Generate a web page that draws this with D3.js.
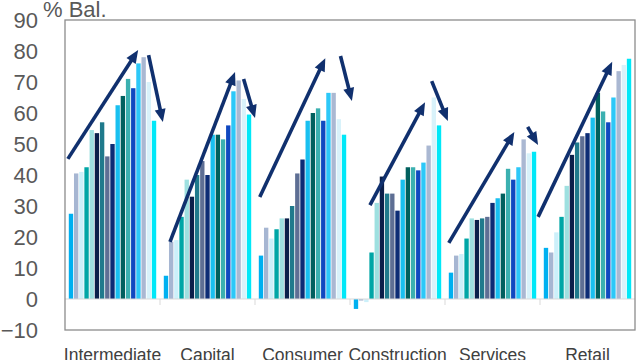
<!DOCTYPE html>
<html>
<head>
<meta charset="utf-8">
<script src="https://cdn.jsdelivr.net/npm/d3@7"></script>
<style>
  html, body { margin: 0; padding: 0; background: #fff; }
  svg { display: block; }
</style>
</head>
<body>
<svg id="chart" width="640" height="360"></svg>
<script>
// ---- data ----
const categories = ["Intermediate", "Capital", "Consumer", "Construction", "Services", "Retail"];
const intermediate = [27.5, 40.5, 41, 42.5, 54.5, 53.5, 57, 46, 50, 62.5, 65.5, 71, 68, 76, 78, 70, 57.5];
const capital      = [7.5, 18.5, 19, 26.5, 38.5, 33, 40, 44.5, 40, 53, 53, 51.5, 56, 67, 70.5, 64.5, 59.5];
const consumer     = [14, 23, 19.5, 22.5, 26, 26, 30, 40.5, 45, 57.5, 60, 61.5, 57.5, 66.5, 66.5, 58, 53];
const construction = [-3.2, -0.5, -1, 15, 31, 39.5, 34, 34, 28.5, 38.5, 42.5, 42.5, 41.5, 44, 49.5, 65, 56];
const services     = [8.5, 14, 14.5, 19.5, 26, 25.5, 26, 26.5, 31, 32.5, 34, 42, 38.5, 42.5, 51.5, 47, 47.5];
const retail       = [16.5, 15, 21.5, 26.5, 36.5, 46.5, 50.5, 52.5, 53.5, 58.5, 66.5, 60.5, 57, 65, 73.5, 75.5, 77.5];
const seriesColors = ["#00b0f0", "#a6b6d2", "#ccf0fa", "#00a6a6", "#9ee0e0", "#0a1f4a", "#1f7a8c",
                      "#5e6f94", "#0d2d75", "#19c0f0", "#00605e", "#3bb0b0", "#1048c0", "#2cc8f8",
                      "#aab8d2", "#d8f2fa", "#00e8f8"];
const yTicks = [-10, 0, 10, 20, 30, 40, 50, 60, 70, 80, 90];
// arrows: [category, start position in band (0..1), start value, end position, end value]
const arrows = [
  ["Intermediate", 0.03, 45.2, 0.77, 80.3],
  ["Intermediate", 0.88, 78.7, 1.03, 57.1],
  ["Capital", 0.105, 18.4, 0.79, 73.2],
  ["Capital", 0.88, 71, 1.0, 58.4],
  ["Consumer", 0.05, 32.9, 0.74, 77.7],
  ["Consumer", 0.90, 78.4, 1.02, 63.9],
  ["Construction", 0.21, 30.3, 0.79, 63.5],
  ["Construction", 0.86, 70.3, 1.03, 57.4],
  ["Services", 0.04, 18.1, 0.73, 53.9],
  ["Services", 0.87, 55.5, 0.98, 49.7],
  ["Retail", -0.02, 26.5, 0.76, 76.5]
];

const table = [intermediate, capital, consumer, construction, services, retail];

// ---- layout ----
const svg = d3.select("#chart");
const mLeft = 65, mRight = 635, mTop = 20, mBottom = 330;

const x0 = d3.scaleBand().domain(categories).range([mLeft, mRight]).paddingInner(0.08).paddingOuter(0.04);
const x1 = d3.scaleBand().domain(d3.range(seriesColors.length)).range([0, x0.bandwidth()]).paddingInner(0.16);
const y = d3.scaleLinear().domain([-10, 90]).range([mBottom, mTop]);
const step = x0.step();
const bandStart = c => x0(c) - x0.paddingOuter() * step;

// bars
const groups = svg.append("g").selectAll("g")
  .data(categories)
  .join("g")
  .attr("transform", c => `translate(${x0(c)},0)`);

groups.selectAll("rect")
  .data((c, i) => table[i].map((v, j) => ({ v, j })))
  .join("rect")
  .attr("x", d => x1(d.j))
  .attr("width", x1.bandwidth())
  .attr("y", d => y(Math.max(0, d.v)))
  .attr("height", d => Math.abs(y(d.v) - y(0)))
  .attr("fill", d => seriesColors[d.j]);

// zero line with category ticks
svg.append("line")
  .attr("x1", mLeft).attr("x2", mRight)
  .attr("y1", y(0)).attr("y2", y(0))
  .attr("stroke", "#d9d9d9").attr("stroke-width", 1);
svg.append("g").selectAll("line")
  .data(categories.slice(1))
  .join("line")
  .attr("x1", c => bandStart(c)).attr("x2", c => bandStart(c))
  .attr("y1", y(0)).attr("y2", y(0) + 6)
  .attr("stroke", "#d9d9d9").attr("stroke-width", 1);

// frame
svg.append("rect")
  .attr("x", mLeft).attr("y", mTop)
  .attr("width", mRight - mLeft).attr("height", mBottom - mTop)
  .attr("fill", "none").attr("stroke", "#8c8c8c").attr("stroke-width", 1.3);

// y axis labels
const yAxis = d3.axisLeft(y).tickValues(yTicks).tickSize(0).tickPadding(0).tickFormat(d3.format("d"));
const ya = svg.append("g").attr("transform", `translate(${mLeft - 27},0)`).call(yAxis);
ya.select(".domain").remove();
ya.selectAll("text")
  .attr("font-family", "Liberation Sans, Arial, sans-serif")
  .attr("font-size", 22)
  .attr("fill", "#595959");

svg.append("text")
  .attr("x", 43).attr("y", 17)
  .attr("font-family", "Liberation Sans, Arial, sans-serif")
  .attr("font-size", 22)
  .attr("fill", "#595959")
  .text("% Bal.");

// category labels
const xAxis = d3.axisBottom(x0).tickSize(0).tickPadding(0);
const xa = svg.append("g").attr("transform", `translate(0,${mBottom})`).call(xAxis);
xa.select(".domain").remove();
xa.selectAll("text")
  .attr("dy", null)
  .attr("y", 31)
  .attr("font-family", "Liberation Sans, Arial, sans-serif")
  .attr("font-size", 17.5)
  .attr("fill", "#404040");

// arrows
const arrowColor = "#10306e";
const ag = svg.append("g");
arrows.forEach(([c, f0, v0, f1, v1]) => {
  const xs = bandStart(c) + f0 * step, ys = y(v0);
  const xe = bandStart(c) + f1 * step, ye = y(v1);
  const ang = Math.atan2(ye - ys, xe - xs);
  const headLen = 13, headHalf = 5.5;
  const bx = xe - headLen * Math.cos(ang), by = ye - headLen * Math.sin(ang);
  ag.append("line")
    .attr("x1", xs).attr("y1", ys)
    .attr("x2", bx + 2 * Math.cos(ang)).attr("y2", by + 2 * Math.sin(ang))
    .attr("stroke", arrowColor).attr("stroke-width", 3.6);
  const px = -Math.sin(ang), py = Math.cos(ang);
  ag.append("polygon")
    .attr("points", [[xe, ye], [bx + headHalf * px, by + headHalf * py], [bx - headHalf * px, by - headHalf * py]].map(p => p.join(",")).join(" "))
    .attr("fill", arrowColor);
});
</script>
</body>
</html>
